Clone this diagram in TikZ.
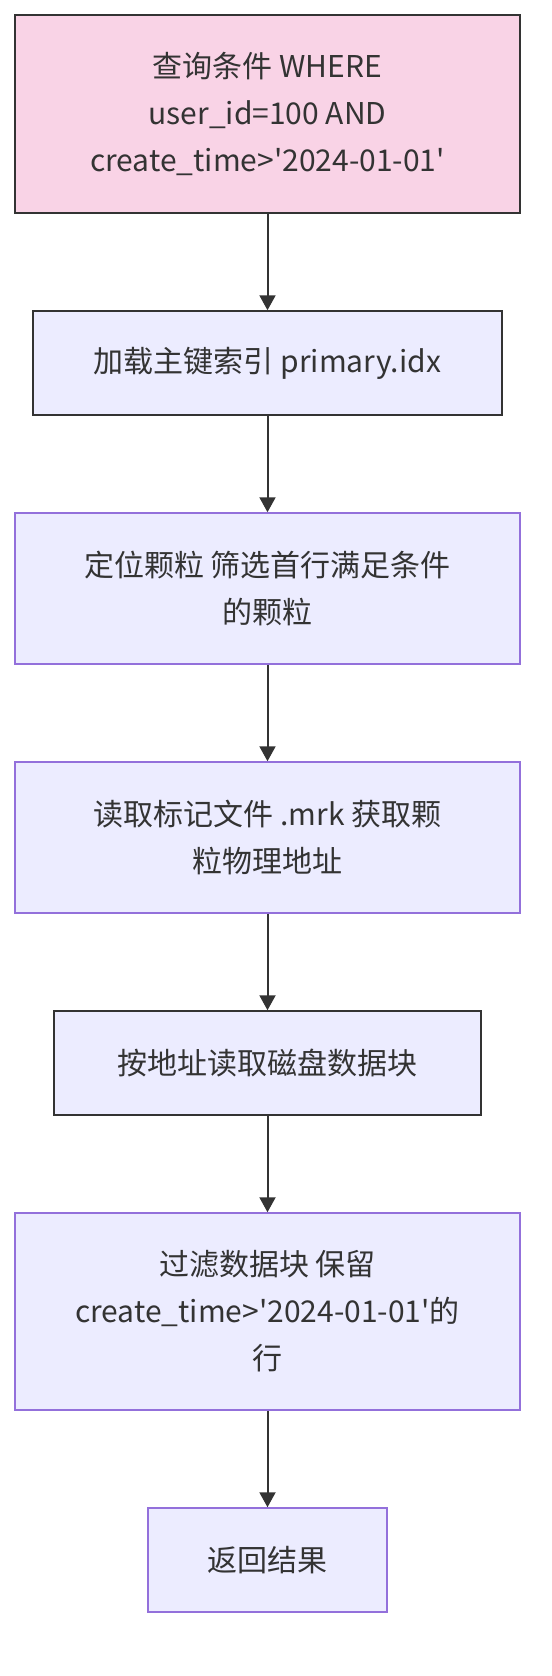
\documentclass[tikz,border=0pt]{standalone}
\usepackage{fontspec}
\setmainfont{Noto Sans CJK SC}[Ligatures=TeXOff]
\usepackage{tikz}
\usetikzlibrary{arrows.meta}
\usepackage{xcolor}
\definecolor{pinkfill}{HTML}{F9D3E6}
\definecolor{lavfill}{HTML}{ECECFF}
\definecolor{purpline}{HTML}{9370DB}
\definecolor{darkline}{HTML}{333333}
\tikzset{
  stepbox/.style={draw=darkline, fill=lavfill, line width=1.5bp, inner sep=0pt,
    align=center, text=darkline, font=\fontsize{30bp}{47bp}\selectfont},
  flow/.style={draw=darkline, line width=2bp, -{Triangle[length=15bp,width=16bp]}}
}
\begin{document}
\begin{tikzpicture}[x=1bp,y=-1bp]
\useasboundingbox (0,0) rectangle (552,1676);
% Query condition
\node[stepbox, fill=pinkfill, minimum width=505bp, minimum height=198bp] (query) at (267.5,114)
  {查询条件 WHERE\\user\_id=100 AND\\create\_time>'2024-01-01'};
% Load index
\node[stepbox, minimum width=469bp, minimum height=104bp] (loadidx) at (267.5,363)
  {加载主键索引 primary.idx};
% Locate granules
\node[stepbox, draw=purpline, minimum width=505bp, minimum height=151bp] (locate) at (267.5,588.5)
  {定位颗粒 筛选首行满足条件\\的颗粒};
% Read mark file
\node[stepbox, draw=purpline, minimum width=505bp, minimum height=151bp] (readmrk) at (267.5,837.5)
  {读取标记文件 .mrk 获取颗\\粒物理地址};
% Read disk blocks
\node[stepbox, minimum width=427bp, minimum height=104bp] (readdisk) at (267.5,1063)
  {按地址读取磁盘数据块};
% Filter blocks
\node[stepbox, draw=purpline, minimum width=505bp, minimum height=197bp] (filter) at (267.5,1311.5)
  {过滤数据块 保留\\create\_time>'2024-01-01'的\\行};
% Result
\node[stepbox, draw=purpline, minimum width=239bp, minimum height=104bp] (result) at (267.5,1560)
  {返回结果};
\foreach \a/\b in {query/loadidx, loadidx/locate, locate/readmrk, readmrk/readdisk, readdisk/filter, filter/result} {
    \draw[flow] (\a) -- (\b);
}
\end{tikzpicture}
\end{document}
